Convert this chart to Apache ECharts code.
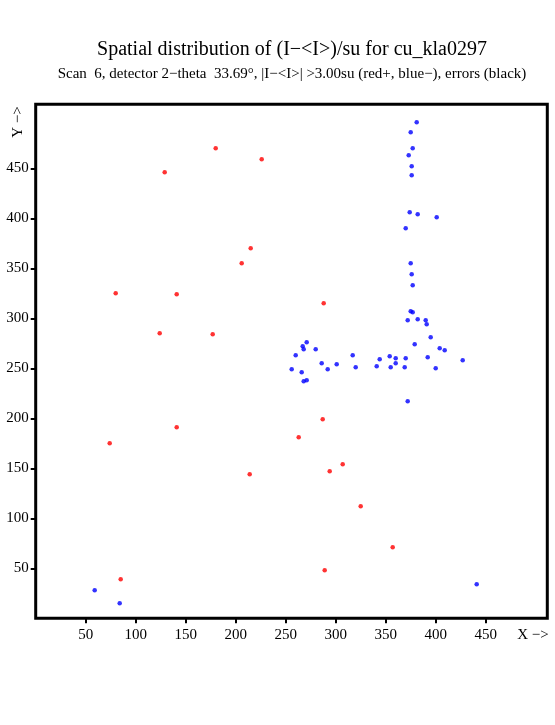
<!DOCTYPE html>
<html><head><meta charset="utf-8">
<script src="https://cdn.jsdelivr.net/npm/echarts@6/dist/echarts.min.js"></script>
<style>html,body{margin:0;padding:0;background:#fff}#c{width:555px;height:725px}</style>
</head><body><div id="c"></div>
<script>
const xTicks = [50,100,150,200,250,300,350,400,450];
const yTicks = [50,100,150,200,250,300,350,400,450];
const redX = [180,226,129,215,206,80,141,124,177,288,287,141,74,263,214,307,294,325,357,289,85];
const redY = [470,459,446,370,355,325,324,285,284,315,199,191,175,181,144,154,147,112,71,48,39];
const blueX = [381,375,377,373,376,376,374,382,401,370,375,376,377,
  375,377,372,382,390,391,395,379,271,267,268,260,280,404,409,317,344,354,360,370,392,427,360,286,301,256,292,320,341,355,369,400,266,268,271,372,59,84,441];
const blueY = [496,486,470,463,452,443,406,404,401,390,355,344,333,
  307,306,298,299,298,294,281,274,276,272,269,263,269,270,268,263,259,262,260,260,261,258,255,255,254,249,249,251,252,251,251,250,246,237,238,217,28,15,34];

const redData = redX.map((x,i)=>[x,redY[i]]);
const blueData = blueX.map((x,i)=>[x,blueY[i]]);
const FONT = '"Liberation Serif", "DejaVu Serif", serif';
const chart = echarts.init(document.getElementById('c'), null, {renderer:'canvas'});
const L = 35.7, T = 104.3, W = 511.6, H = 514;
chart.setOption({
  animation:false,
  backgroundColor:'#fff',
  grid:{left:L, top:T, width:W, height:H, show:true, borderColor:'#000', borderWidth:3, backgroundColor:'transparent'},
  xAxis:{type:'value', min:0, max:W, splitLine:{show:false},
    axisLine:{show:false},
    axisTick:{show:true, inside:false, length:5, lineStyle:{color:'#000', width:2}, customValues:xTicks},
    axisLabel:{customValues:xTicks, color:'#000', fontFamily:FONT, fontSize:15, margin:9}},
  yAxis:{type:'value', min:0, max:H, splitLine:{show:false},
    axisLine:{show:false},
    axisTick:{show:true, inside:false, length:5, lineStyle:{color:'#000', width:2}, customValues:yTicks},
    axisLabel:{customValues:yTicks, color:'#000', fontFamily:FONT, fontSize:15, margin:7}},
  graphic:[
    {type:'text', x:292, y:50, style:{text:'Spatial distribution of (I\u2212<I>)/su for cu_kla0297', fill:'#000', font:'20px '+FONT, textAlign:'center', textVerticalAlign:'middle'}},
    {type:'text', x:292, y:74, style:{text:'Scan  6, detector 2\u2212theta  33.69\u00b0, |I\u2212<I>| >3.00su (red+, blue\u2212), errors (black)', fill:'#000', font:'15px '+FONT, textAlign:'center', textVerticalAlign:'middle'}},
    {type:'text', x:533, y:635, style:{text:'X \u2212>', fill:'#000', font:'15px '+FONT, textAlign:'center', textVerticalAlign:'middle'}},
    {type:'text', x:18, y:122, rotation:Math.PI/2, style:{text:'Y \u2212>', fill:'#000', font:'15px '+FONT, textAlign:'center', textVerticalAlign:'middle'}}
  ],
  series:[
    {type:'scatter', name:'pos', data:redData, symbol:'circle', symbolSize:4.5, itemStyle:{color:'#ff0000'}},
    {type:'scatter', name:'neg', data:blueData, symbol:'circle', symbolSize:4.5, itemStyle:{color:'#0000ff'}}
  ]
});
</script></body></html>
